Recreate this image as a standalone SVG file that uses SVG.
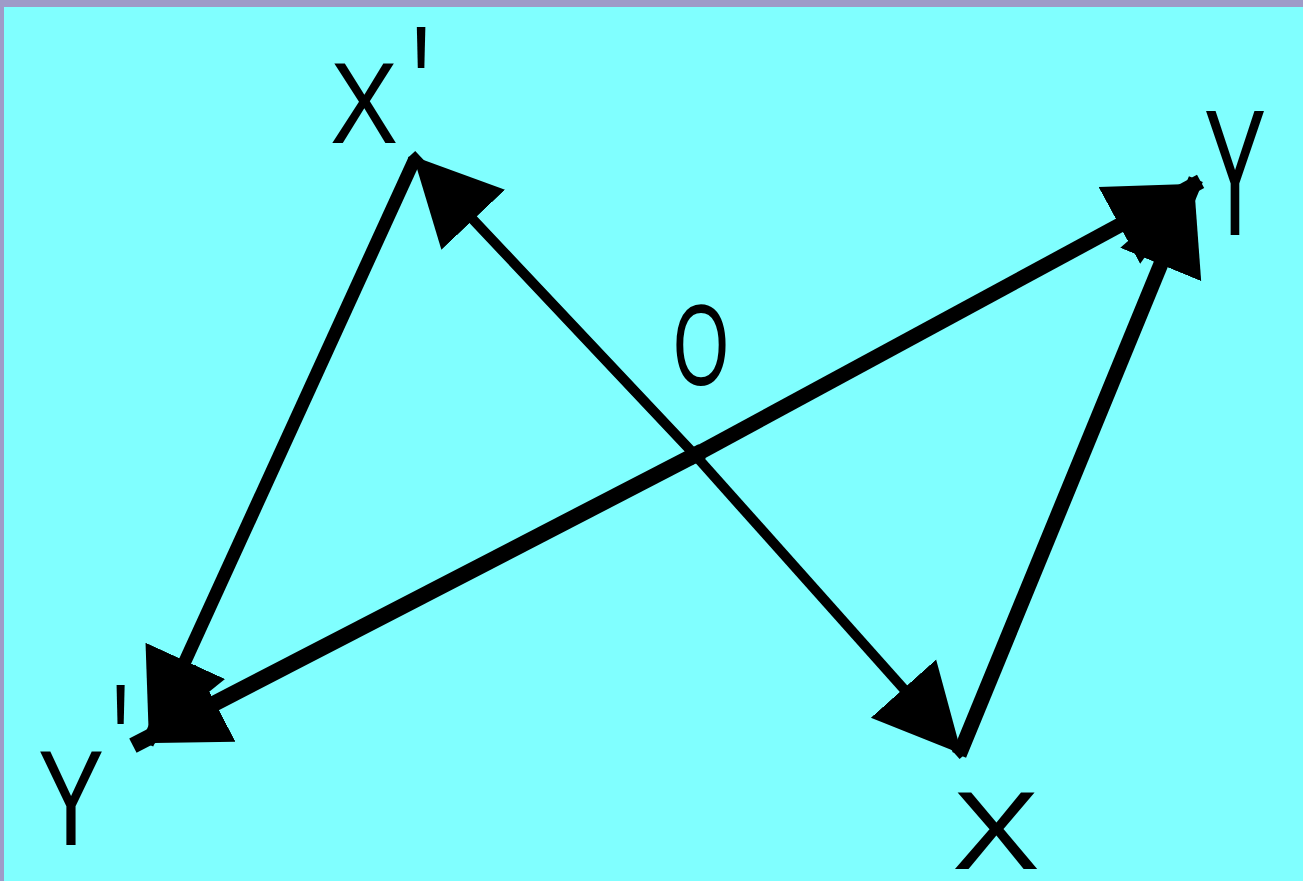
<svg xmlns="http://www.w3.org/2000/svg" width="1303" height="881" viewBox="0 0 1303 881">
<style>
.ln{stroke:#000;fill:none;stroke-linecap:square}
.lb{font-family:"Liberation Sans",Arial,sans-serif;fill:#000}
</style>
<defs>
<marker id="ah" markerUnits="userSpaceOnUse" markerWidth="90" markerHeight="90" refX="66" refY="34" orient="auto" viewBox="0 0 70 68">
<path d="M0,0 L68,34 L0,68 Z" fill="#000"/>
</marker>
</defs>
<rect x="0" y="0" width="1303" height="881" fill="#9E9BC8"/>
<rect x="4" y="7" width="1299" height="874" fill="#80FFFF"/>
<g id="connectors">
<line class="ln" x1="412" y1="165" x2="150" y2="738" stroke-width="13" marker-end="url(#ah)"/>
<line class="ln" x1="695" y1="455" x2="415" y2="158" stroke-width="10" marker-end="url(#ah)"/>
<line class="ln" x1="695" y1="455" x2="1194" y2="185" stroke-width="15" marker-end="url(#ah)"/>
<line class="ln" x1="695" y1="455" x2="140" y2="742" stroke-width="16" marker-end="url(#ah)"/>
<line class="ln" x1="695" y1="455" x2="960" y2="752" stroke-width="10" marker-end="url(#ah)"/>
<line class="ln" x1="962" y1="748" x2="1193" y2="186" stroke-width="15" marker-end="url(#ah)"/>
</g>
<g id="node-Xp"><text class="lb" x="330" y="143" font-size="115" textLength="68" lengthAdjust="spacingAndGlyphs">X</text><text class="lb" transform="translate(412,62) scale(0.5,1)" x="0" y="95" font-size="190">'</text></g>
<g id="node-Y"><text class="lb" x="1204" y="235" font-size="180" textLength="62" lengthAdjust="spacingAndGlyphs">Y</text></g>
<g id="node-O"><text class="lb" x="673" y="385" font-size="115" textLength="56" lengthAdjust="spacingAndGlyphs">O</text></g>
<g id="node-Yp"><text class="lb" x="38" y="845" font-size="135" textLength="66" lengthAdjust="spacingAndGlyphs">Y</text><text class="lb" transform="translate(112,697) scale(0.5,1)" x="0" y="0" font-size="180" dy="0.62em">'</text></g>
<g id="node-X"><text class="lb" x="952" y="869" font-size="112" textLength="88" lengthAdjust="spacingAndGlyphs">X</text></g>
</svg>
